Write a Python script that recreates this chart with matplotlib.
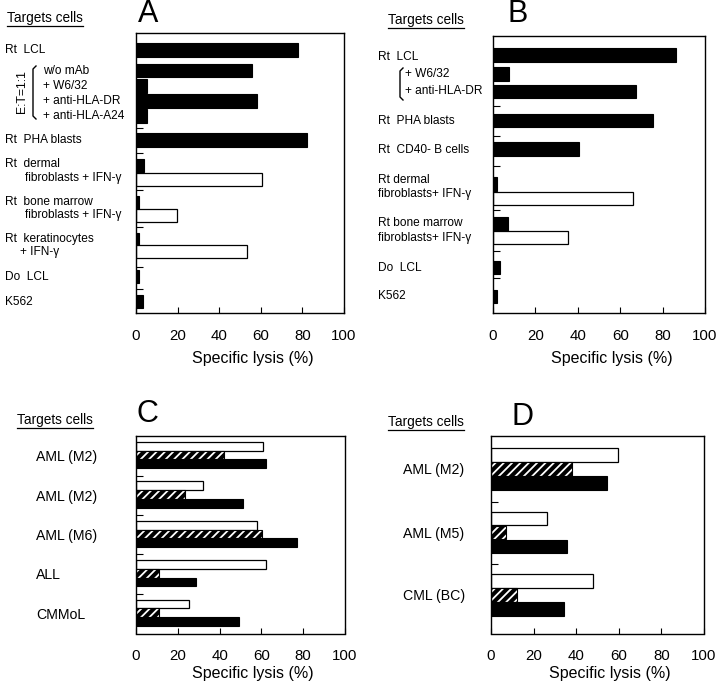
import matplotlib
matplotlib.use("Agg")
import matplotlib.pyplot as plt
from matplotlib.lines import Line2D

plt.rcParams['font.family'] = ['Liberation Sans', 'DejaVu Sans']
plt.rcParams['hatch.linewidth'] = 1.3

# ---------------- data ----------------
# Panel A
A_black_vals = [78, 55.6, 5.3, 58, 5.3, 82.4, 4, 1.3, 1.4, 1.6, 3.5]
A_white_vals = [60.7, 19.5, 53.5]
# Panel B
B_black_vals = [86.3, 7.4, 67.5, 75.7, 40.7, 1.9, 6.9, 3.5, 1.9]
B_white_vals = [66, 35.5]
# Panel C
C_labels = ["AML (M2)", "AML (M2)", "AML (M6)", "ALL", "CMMoL"]
C_white = [60.9, 31.9, 57.7, 62.2, 25.4]
C_hatch = [42.3, 23.4, 60.1, 11.2, 11.2]
C_black = [62.2, 51.4, 76.9, 28.5, 49.4]
# Panel D
D_labels = ["AML (M2)", "AML (M5)", "CML (BC)"]
D_white = [59.8, 26.1, 48.0]
D_hatch = [38.0, 7.0, 12.4]
D_black = [54.3, 35.8, 34.3]

x_ticks = [0, 20, 40, 60, 80, 100]
x_label = "Specific lysis (%)"

# ---------------- layout (figure pixels, y from top) ----------------
W, H = 720, 694
fig = plt.figure(figsize=(W / 100, H / 100), dpi=100)


def ax_at(left, top, right, bottom):
    return fig.add_axes([left / W, 1 - bottom / H, (right - left) / W, (bottom - top) / H])


def ft(x, y, s, size=8.6, **kw):
    kw.setdefault('ha', 'left')
    kw.setdefault('va', 'center')
    return fig.text(x / W, 1 - y / H, s, fontsize=size, **kw)


def fline(xs, ys, lw=1.0):
    fig.add_artist(Line2D([x / W for x in xs], [1 - y / H for y in ys],
                          color='black', lw=lw, transform=fig.transFigure))


def style(ax, top, bottom, seps, label_y_px):
    ax.set_xlim(0, 100)
    ax.set_ylim(bottom, top)
    ax.set_xticks(x_ticks)
    ax.set_xticklabels([str(t) for t in x_ticks], fontsize=10.8)
    ax.set_yticks(seps)
    ax.set_yticklabels([])
    ax.tick_params(axis='x', direction='in', length=4, width=0.8, pad=11)
    ax.tick_params(axis='y', direction='in', length=5, width=0.8)
    for sp in ax.spines.values():
        sp.set_linewidth(1.0)
    ax.set_xlabel(x_label, fontsize=11.5)
    # label centre placed label_y_px below the bottom spine
    ax.xaxis.set_label_coords(0.56, -label_y_px / (bottom - top))
    ax.xaxis.label.set_va('center')


def black_bars(ax, pos, vals, h):
    ax.barh(pos, vals, height=h, color='black', edgecolor='black', linewidth=0.8)


def white_bars(ax, pos, vals, h):
    ax.barh(pos, vals, height=h, color='white', edgecolor='black', linewidth=0.9)


def hatch_bars(ax, pos, vals, h):
    ax.barh(pos, vals, height=h, color='black', edgecolor='white', hatch='////', linewidth=0)
    ax.barh(pos, vals, height=h, fill=False, edgecolor='black', linewidth=0.8)


def targets(x, y):
    t = ft(x, y, "Targets cells", size=9.8)
    fig.canvas.draw()
    bb = t.get_window_extent(fig.canvas.get_renderer())
    x0, x1 = bb.x0, bb.x1
    yb = H - bb.y0 + 1
    fline([x0, x1], [yb, yb], lw=0.9)


# ---------------- Panel A ----------------
axA = ax_at(136, 33.3, 344, 313.3)
A_black_pos = [50, 70.7, 86, 101, 116, 140, 165.7, 202.7, 239.3, 276.7, 301.7]
A_white_pos = [179.3, 215, 251.7]
black_bars(axA, A_black_pos, A_black_vals, 13.5)
white_bars(axA, A_white_pos, A_white_vals, 13)
style(axA, 33.3, 313.3, [128.3, 153.3, 190, 227.3, 266.7, 289.3], 45)

targets(7, 18)
ft(138, 14, "A", size=22)
ft(5, 50, "Rt  LCL")
for y, s in zip([70.7, 86, 101, 116], ["w/o mAb", "+ W6/32", "+ anti-HLA-DR", "+ anti-HLA-A24"]):
    ft(43, y, s)
fline([36, 33, 33, 36], [66, 69, 116, 119], lw=1.0)
ft(22, 92, "E:T=1:1", size=8.8, rotation=90, ha='center')
ft(5, 140, "Rt  PHA blasts")
ft(5, 164, "Rt  dermal")
ft(25, 178.5, "fibroblasts + IFN-γ")
ft(5, 202, "Rt  bone marrow")
ft(25, 215.5, "fibroblasts + IFN-γ")
ft(5, 239, "Rt  keratinocytes")
ft(20, 252, "+ IFN-γ")
ft(5, 277, "Do  LCL")
ft(5, 302, "K562")

# ---------------- Panel B ----------------
axB = ax_at(493, 36, 705, 313.3)
B_black_pos = [55, 74, 91.7, 120.7, 149, 184, 224, 267.7, 296.7]
B_white_pos = [198.3, 237.7]
black_bars(axB, B_black_pos, B_black_vals, 13.5)
white_bars(axB, B_white_pos, B_white_vals, 13)
style(axB, 36, 313.3, [106, 136, 165.7, 210, 250.7, 278.3], 45)

targets(388, 20)
ft(507, 14, "B", size=22)
ft(378, 57, "Rt  LCL")
ft(405, 74, "+ W6/32")
ft(405, 91.5, "+ anti-HLA-DR")
fline([403, 400, 400, 403], [68, 71, 97, 100], lw=1.0)
ft(378, 121, "Rt  PHA blasts")
ft(378, 150, "Rt  CD40- B cells")
ft(378, 180, "Rt dermal")
ft(378, 194, "fibroblasts+ IFN-γ")
ft(378, 223, "Rt bone marrow")
ft(378, 238, "fibroblasts+ IFN-γ")
ft(378, 268, "Do  LCL")
ft(378, 296, "K562")

# ---------------- Panel C ----------------
axC = ax_at(136, 436, 345, 633.5)
C_pos = [455, 494.5, 534, 573.3, 612.7]
C_off, C_h = 8.8, 8.8
white_bars(axC, [p - C_off for p in C_pos], C_white, C_h)
hatch_bars(axC, C_pos, C_hatch, C_h)
black_bars(axC, [p + C_off for p in C_pos], C_black, C_h)
style(axC, 436, 633.5, [476, 515, 554.3, 594], 40)

targets(17, 420)
ft(137, 414, "C", size=22)
for p, s in zip(C_pos, C_labels):
    ft(36, p + 2, s, size=10.2)

# ---------------- Panel D ----------------
axD = ax_at(491, 436, 704, 633.5)
D_pos = [469, 532.7, 595]
D_off, D_h = 14, 13.5
white_bars(axD, [p - D_off for p in D_pos], D_white, D_h)
hatch_bars(axD, D_pos, D_hatch, D_h)
black_bars(axD, [p + D_off for p in D_pos], D_black, D_h)
style(axD, 436, 633.5, [501.7, 564], 40)

targets(388, 422)
ft(512, 417, "D", size=22)
for p, s in zip(D_pos, D_labels):
    ft(403, p + 1, s, size=10.2)

fig.savefig("out.png", dpi=100)
